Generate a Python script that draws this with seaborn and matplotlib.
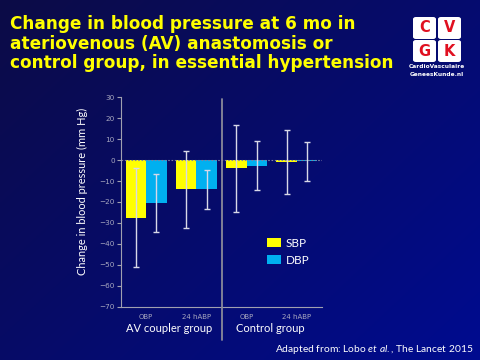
import numpy as np
import pandas as pd
import matplotlib
matplotlib.use("Agg")
import matplotlib.pyplot as plt
from matplotlib.patches import FancyBboxPatch, Patch
import seaborn as sns

# ---- data ----
categories = ["OBP", "24 hABP", "OBP ", "24 hABP "]
sbp_values = [-27.5, -14.0, -4.0, -1.0]
dbp_values = [-20.5, -14.0, -2.7, -0.6]
sbp_err = [23.6, 18.4, 20.8, 15.3]
dbp_err = [14.0, 9.5, 11.7, 9.3]
series = ["SBP", "DBP"]
groups = ["AV coupler group", "Control group"]
yticks = list(range(-70, 31, 10))

df = pd.DataFrame({
    "cat": categories * 2,
    "measure": ["SBP"] * 4 + ["DBP"] * 4,
    "value": sbp_values + dbp_values,
})

sns.set_theme(style="white")
plt.rcParams['font.family'] = ['DejaVu Sans']
plt.rcParams['mathtext.fontset'] = 'custom'
plt.rcParams['mathtext.rm'] = 'Lato'
plt.rcParams['mathtext.it'] = 'Lato:italic'
SANS = ["Lato", "DejaVu Sans"]

fig = plt.figure(figsize=(4.8, 3.6), dpi=100)

# background gradient
bg = fig.add_axes([0, 0, 1, 1], zorder=-10)
xx, yy = np.meshgrid(np.linspace(0, 1, 200), np.linspace(0, 1, 150))
t = np.clip((xx * 0.75 + yy * 0.6) / 1.35, 0, 1)
c0 = np.array([0x0c, 0x0b, 0x46]) / 255
c1 = np.array([0x00, 0x0c, 0x90]) / 255
img = c0[None, None, :] * (1 - t[..., None]) + c1[None, None, :] * t[..., None]
bg.imshow(img, aspect="auto", extent=[0, 1, 0, 1], origin="upper")
bg.set_xlim(0, 1); bg.set_ylim(0, 1)
bg.axis("off")

ax = fig.add_axes([121 / 480, (360 - 306.7) / 360, (322 - 121) / 480, (306.7 - 97.3) / 360])
ax.patch.set_alpha(0)

palette = {"SBP": "#ffff00", "DBP": "#00b0f0"}
sns.barplot(data=df, x="cat", y="value", hue="measure", hue_order=series,
            order=categories, palette=palette, width=0.82, ax=ax,
            errorbar=None, saturation=1, legend=False)

# error bars placed at bar centres
errs = sbp_err + dbp_err
vals = sbp_values + dbp_values
for p, v, e in zip(ax.patches, vals, errs):
    p.set_linewidth(0)
    xc = p.get_x() + p.get_width() / 2
    ax.errorbar(xc, v, yerr=e, fmt="none", ecolor="#d8d8e8", elinewidth=1.0,
                capsize=2.2, capthick=1.0, zorder=5)

ax.axhline(0, color="#8080a0", lw=0.8, ls=(0, (1.5, 1.5)), zorder=1)

ax.set_ylim(-70, 30)
ax.set_xlim(-0.5, 3.5)
ax.set_yticks(yticks)
ax.set_yticklabels([str(v).replace("-", "\u2212") for v in yticks])
ax.set_xticks([0.5, 2.5], minor=False)
ax.set_xticklabels([])
ax.set_xticks(range(4), minor=True)
ax.set_xticklabels(["OBP", "24 hABP", "OBP", "24 hABP"], minor=True)
ax.tick_params(axis="x", which="minor", length=0, labelsize=5, labelcolor="#a8a8c0", pad=5)
ax.tick_params(axis="x", which="major", length=3, color="#a0a0b0", width=0.8, direction="out")
ax.tick_params(axis="y", length=3, color="#a0a0b0", width=0.8, labelsize=5.2,
               labelcolor="#a8a8c0", pad=1.5, direction="out", left=True)
for s in ["top", "right"]:
    ax.spines[s].set_visible(False)
for s in ["left", "bottom"]:
    ax.spines[s].set_color("#a0a0b0")
    ax.spines[s].set_linewidth(0.8)
ax.set_xlabel("")
ax.set_ylabel("Change in blood pressure (mm Hg)", color="white", fontsize=7.9,
              family=SANS)
ax.yaxis.set_label_coords(-0.165, 0.55)

# separator line
fig.add_artist(plt.Line2D([222 / 480, 222 / 480], [1 - 99 / 360, 1 - 340 / 360],
                          color="#8a8a9a", lw=1.3))

# group labels
fig.text(169 / 480, 1 - 328 / 360, groups[0], color="white", fontsize=8.0,
         ha="center", va="center", family=SANS)
fig.text(270 / 480, 1 - 328 / 360, groups[1], color="white", fontsize=8.0,
         ha="center", va="center", family=SANS)

# legend
handles = [Patch(facecolor=palette[s], edgecolor="none", label=s) for s in series]
fig.legend(handles=handles, loc="upper left", bbox_to_anchor=(256 / 480, 1 - 227 / 360),
           frameon=False, labelcolor="white", handlelength=1.2,
           handleheight=0.8, handletextpad=0.4, labelspacing=0.5,
           prop={"family": SANS, "size": 8.5})

# title
title = ("Change in blood pressure at 6 mo in\n"
         "ateriovenous (AV) anastomosis or\n"
         "control group, in essential hypertension")
fig.text(10 / 480, 1 - 15 / 360, title, color="#ffff00", fontsize=12.2, fontweight="bold",
         ha="left", va="top", linespacing=1.12, family=["DejaVu Sans"])

# logo
for (lx, ly, letter) in [(413, 17, "C"), (438, 17, "V"), (413, 40, "G"), (438, 40, "K")]:
    w, h = 23, 22
    fig.add_artist(FancyBboxPatch((lx / 480, 1 - (ly + h) / 360), w / 480, h / 360,
                                  boxstyle="round,pad=0,rounding_size=0.006",
                                  transform=fig.transFigure, facecolor="white",
                                  edgecolor="none"))
    fig.text((lx + w / 2) / 480, 1 - (ly + h / 2) / 360, letter, color="#e01020",
             fontsize=10.5, fontweight="bold", ha="center", va="center")
fig.text(437 / 480, 1 - 67 / 360, "CardioVasculaire", color="white", fontsize=4.2,
         ha="center", va="center", fontweight="bold")
fig.text(437 / 480, 1 - 75 / 360, "GeneesKunde.nl", color="white", fontsize=4.2,
         ha="center", va="center", fontweight="bold")

# source
fig.text(473 / 480, 1 - 350 / 360,
         r"Adapted from: Lobo $\mathit{et\ al.}$, The Lancet 2015",
         color="white", fontsize=7.4, ha="right", va="center", family=SANS)

fig.savefig("out.png", dpi=100)
